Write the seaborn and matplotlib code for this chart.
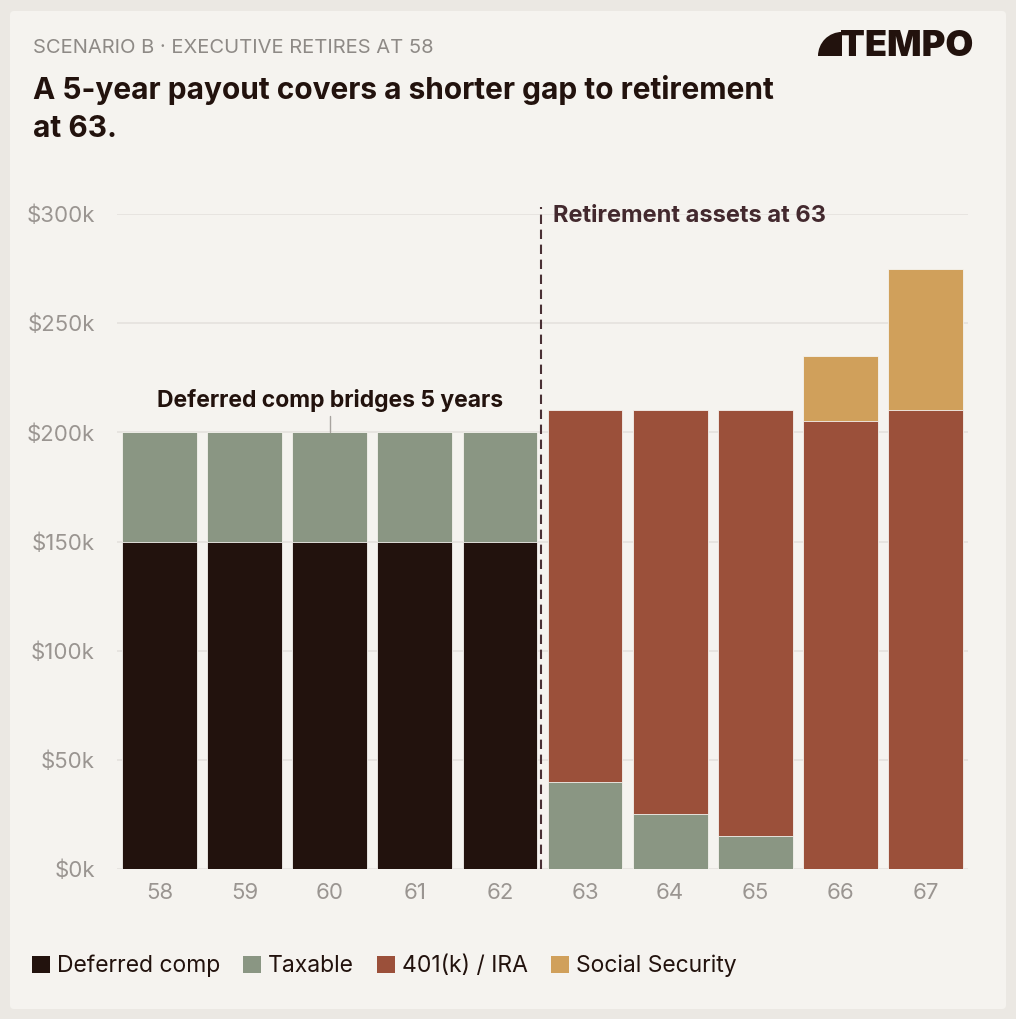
import matplotlib
matplotlib.use("Agg")
import matplotlib.pyplot as plt
import seaborn as sns
import numpy as np
import pandas as pd
from matplotlib.patches import Rectangle, FancyBboxPatch, Wedge, Patch

# ---------------- data ----------------
ages = ["58", "59", "60", "61", "62", "63", "64", "65", "66", "67"]
deferred_comp = [150, 150, 150, 150, 150, 0, 0, 0, 0, 0]          # $k
taxable       = [50, 50, 50, 50, 50, 40, 25, 15, 0, 0]
ira_401k      = [0, 0, 0, 0, 0, 170, 185, 195, 205, 210]
social_sec    = [0, 0, 0, 0, 0, 0, 0, 0, 30, 65]
series_names  = ["Deferred comp", "Taxable", "401(k) / IRA", "Social Security"]
y_ticks       = [0, 50, 100, 150, 200, 250, 300]
y_tick_labels = ["$0k", "$50k", "$100k", "$150k", "$200k", "$250k", "$300k"]

colors = ["#22120D", "#8A9683", "#9B503A", "#D0A05B"]
BG_OUT = "#EBE8E3"
CARD = "#F5F3EF"
GRID = "#E5E2DD"
TICK = "#9A9591"
DARK = "#22120D"

sns.set_theme(style="white")
plt.rcParams["font.family"] = ["Inter", "DejaVu Sans"]

W, H = 1016, 1019
fig = plt.figure(figsize=(W / 100, H / 100), dpi=100)
fig.patch.set_facecolor(BG_OUT)
fig.patches.append(FancyBboxPatch((10 / W, 10 / H), 996 / W, 998 / H,
                                  boxstyle="round,pad=0,rounding_size=0.004",
                                  transform=fig.transFigure, facecolor=CARD,
                                  edgecolor="none", zorder=-5))

ax = fig.add_axes([117 / W, 150 / H, 851 / W, 655 / H])
ax.set_facecolor("none")
ax.set_zorder(1)

df = pd.DataFrame({"age": ages, "dc": deferred_comp, "tx": taxable,
                   "ira": ira_401k, "ss": social_sec})
cum = [df["dc"], df["dc"] + df["tx"], df["dc"] + df["tx"] + df["ira"],
       df["dc"] + df["tx"] + df["ira"] + df["ss"]]

# layered stacked bars: draw from the top segment down
for i in [3, 2, 1, 0]:
    sns.barplot(x=df["age"], y=cum[i], color=colors[i], width=0.88,
                edgecolor=CARD, linewidth=0.6, saturation=1, ax=ax,
                order=ages, zorder=2)

ax.set_ylim(0, 300)
ax.set_xlim(-0.5, 9.5)
ax.set_yticks(y_ticks)
ax.set_yticklabels(y_tick_labels)
ax.set_xlabel("")
ax.set_ylabel("")
for s in ax.spines.values():
    s.set_visible(False)
ax.grid(axis="y", color=GRID, linewidth=1.2, zorder=0)
ax.set_axisbelow(True)
ax.tick_params(axis="y", length=0, pad=16, labelsize=16, labelcolor=TICK)
ax.tick_params(axis="x", length=0, pad=10, labelsize=16, labelcolor=TICK)

# divider
ax.plot([4.48, 4.48], [0, 303], color="#4A3035", linestyle=(0, (4.5, 2.7)),
        linewidth=1.5, clip_on=False, zorder=4)
ax.text(4.62, 299, "Retirement assets at 63", color="#43292E", fontsize=17,
        fontweight="bold", ha="left", va="center", zorder=5)

# bridge annotation
ax.plot([2, 2], [200, 207.5], color="#A8A49F", linewidth=1, zorder=4)
ax.text(2, 214.5, "Deferred comp bridges 5 years", color=DARK, fontsize=16.5,
        fontweight="bold", ha="center", va="center", zorder=5)

# header
fig.text(33 / W, 1 - 48 / H, "SCENARIO B · EXECUTIVE RETIRES AT 58", color="#8E8A86",
         fontsize=14.5, ha="left", va="center")
fig.text(33 / W, 1 - 109 / H, "A 5-year payout covers a shorter gap to retirement\nat 63.",
         color=DARK, fontsize=21.5, fontweight="bold", ha="left", va="center",
         linespacing=1.45)

# logo
fig.patches.append(Wedge((842 / W, 1 - 56 / H), 24 / W, 90, 180,
                         transform=fig.transFigure, facecolor=DARK, edgecolor="none"))
fig.text(840 / W, 1 - 46 / H, "TEMPO", color=DARK, fontsize=26, fontweight="black",
         ha="left", va="center")

# legend
handles = [Patch(facecolor=c, edgecolor="none") for c in colors]
leg = fig.legend(handles, series_names, loc="center left",
                 bbox_to_anchor=(11 / W, 1 - 966 / H), ncol=4, frameon=False,
                 fontsize=16.5, handlelength=0.8, handleheight=0.8,
                 handletextpad=0.3, columnspacing=1.0, labelcolor=DARK)

fig.savefig("out.png", dpi=100, facecolor=BG_OUT)
